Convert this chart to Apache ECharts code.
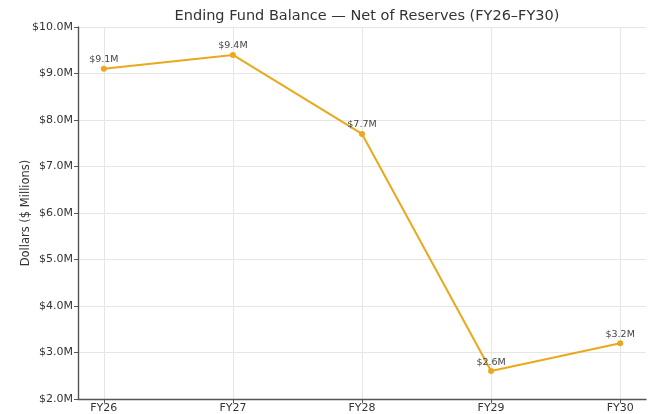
<!DOCTYPE html>
<html>
<head>
<meta charset="utf-8">
<script src="https://cdn.jsdelivr.net/npm/echarts@6/dist/echarts.min.js"></script>
<style>
  html, body { margin: 0; padding: 0; background: #fff; }
  #chart { width: 650px; height: 414px; }
</style>
</head>
<body>
<div id="chart"></div>
<script>
// Fiscal years and ending fund balance (net of reserves), in $ millions
const years = ['FY26', 'FY27', 'FY28', 'FY29', 'FY30'];
const balances = [9.1, 9.4, 7.7, 2.6, 3.2];
const yTicks = [2, 3, 4, 5, 6, 7, 8, 9, 10];

const positions = years.map((_, i) => i);
const points = balances.map((v, i) => [i, v]);
const lineColor = '#eaa81c';
const font = 'DejaVu Sans';

const chart = echarts.init(document.getElementById('chart'), null, { renderer: 'canvas' });
chart.setOption({
  animation: false,
  backgroundColor: '#ffffff',
  title: {
    text: 'Ending Fund Balance \u2014 Net of Reserves (FY26\u2013FY30)',
    left: 362,
    textAlign: 'center',
    top: 4,
    textStyle: { fontFamily: font, fontSize: 14.5, fontWeight: 'normal', color: '#333' }
  },
  grid: { left: 78, right: 4, top: 27, bottom: 14, containLabel: false },
  xAxis: {
    type: 'value',
    min: -0.2,
    max: 4.2,
    axisLine: { show: true, onZero: false, lineStyle: { color: '#555', width: 1.4 } },
    axisTick: { show: true, customValues: positions, length: 4, lineStyle: { color: '#555' } },
    axisLabel: {
      customValues: positions,
      formatter: v => years[Math.round(v)],
      fontFamily: font, fontSize: 11, color: '#333', margin: 4
    },
    splitLine: { show: true, lineStyle: { color: '#e6e6e6', width: 1 } }
  },
  yAxis: {
    type: 'value',
    min: yTicks[0],
    max: yTicks[yTicks.length - 1],
    interval: 1,
    name: 'Dollars ($ Millions)',
    nameLocation: 'middle',
    nameGap: 46,
    nameMoveOverlap: false,
    nameTextStyle: { fontFamily: font, fontSize: 11.5, color: '#333' },
    axisLine: { show: true, onZero: false, lineStyle: { color: '#555', width: 1.4 } },
    axisTick: { show: true, length: 4, lineStyle: { color: '#555' } },
    axisLabel: {
      formatter: v => '$' + v.toFixed(1) + 'M',
      fontFamily: font, fontSize: 11, color: '#333', margin: 5
    },
    splitLine: { show: true, lineStyle: { color: '#e6e6e6', width: 1 } }
  },
  series: [{
    type: 'line',
    data: points,
    symbol: 'circle',
    symbolSize: 6,
    lineStyle: { color: lineColor, width: 2 },
    itemStyle: { color: lineColor },
    label: {
      show: true,
      position: 'top',
      distance: 1,
      formatter: p => '$' + p.value[1].toFixed(1) + 'M',
      fontFamily: font, fontSize: 9.5, color: '#444'
    }
  }]
});
</script>
</body>
</html>
